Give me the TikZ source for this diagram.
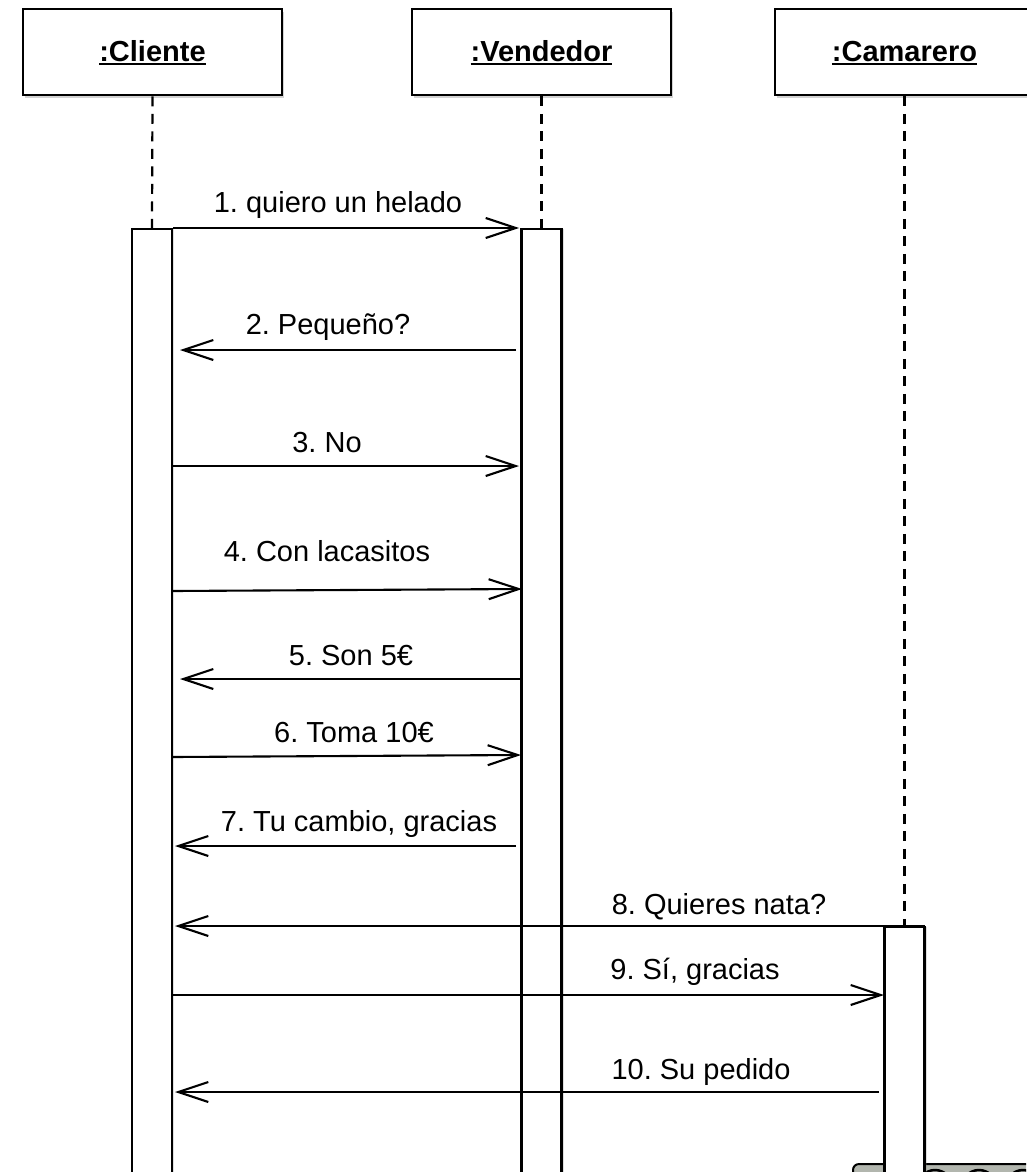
\documentclass[tikz,border=0pt]{standalone}
\usepackage{fontspec}
\setmainfont{Liberation Sans}
\usetikzlibrary{arrows.meta,shadows}
\definecolor{panelgray}{RGB}{178,182,174}
\frenchspacing
% underline placed just below the baseline
\newcommand{\objname}[1]{\setbox0\hbox{#1}\rlap{\raisebox{-3pt}{\rule{\wd0}{2pt}}}\box0}

\begin{document}
\begin{tikzpicture}[x=1pt,y=-1pt,
  objbox/.style={draw, line width=2.6pt, fill=white, minimum width=259pt,
    minimum height=86pt, inner sep=0pt, text height=24pt, text depth=4pt,
    font=\fontsize{29}{34}\selectfont\bfseries,
    drop shadow={shadow xshift=1.5pt, shadow yshift=-3pt, opacity=0.35}},
  lifeline/.style={line width=2.2pt, dash pattern=on 10pt off 7.5pt},
  actbar/.style={draw, line width=2.4pt, fill=white, minimum width=40pt,
    minimum height=944pt, inner sep=0pt, anchor=north,
    drop shadow={shadow xshift=2pt, shadow yshift=0pt, opacity=0.25}},
  msg/.style={line width=2.1pt,
    -{Straight Barb[length=30pt,width=20pt,line width=2.1pt]}},
  lbl/.style={font=\fontsize{29}{34}\selectfont, anchor=base, inner sep=0pt}]

\useasboundingbox (0,0) rectangle (1026,1172);

% control strip peeking in at the lower right corner
\begin{scope}
  \clip (0,0) rectangle (1026,1172);
  \draw[line width=2pt, fill=panelgray, rounded corners=6pt]
    (853,1164) rectangle (1070,1230);
  \foreach \cx in {935,979,1023}
    \draw[line width=2.5pt, fill=panelgray] (\cx,1187) circle (17pt);
\end{scope}

% object headers
\node[objbox] (cli) at (152.5,52) {\objname{:Cliente}};
\node[objbox] (ven) at (541.5,52) {\objname{:Vendedor}};
\node[objbox] (cam) at (904.5,52) {\objname{:Camarero}};

% activation bars
\node[actbar] (cbar) at (152,228) {};
\node[actbar] (vbar) at (541.5,228) {};
\node[actbar, minimum height=250pt] (kbar) at (904.5,926) {};

% lifelines
\draw[lifeline] (cli.south) -- (cbar.north);
\draw[lifeline] (ven.south) -- (vbar.north);
\draw[lifeline] (cam.south) -- (kbar.north);

% message end points
\coordinate (m1a) at (173,228);  \coordinate (m1b) at (519,228);
\coordinate (m2a) at (516,350);  \coordinate (m2b) at (180,350);
\coordinate (m3a) at (173,466);  \coordinate (m3b) at (519,466);
\coordinate (m4a) at (173,591);  \coordinate (m4b) at (522,589);
\coordinate (m5a) at (521,679);  \coordinate (m5b) at (180,679);
\coordinate (m6a) at (173,757);  \coordinate (m6b) at (521,755);
\coordinate (m7a) at (516,846);  \coordinate (m7b) at (175,846);
\coordinate (m8a) at (925,926);  \coordinate (m8b) at (175,926);
\coordinate (m9a) at (173,995);  \coordinate (m9b) at (884,995);
\coordinate (m10a) at (879,1092); \coordinate (m10b) at (175,1092);

% messages
\draw[msg] (m1a) -- (m1b);
\draw[msg] (m2a) -- (m2b);
\draw[msg] (m3a) -- (m3b);
\draw[msg] (m4a) -- (m4b);
\draw[msg] (m5a) -- (m5b);
\draw[msg] (m6a) -- (m6b);
\draw[msg] (m7a) -- (m7b);
\draw[msg] (m8a) -- (m8b);
\draw[msg] (m9a) -- (m9b);
\draw[msg] (m10a) -- (m10b);

% message labels
\node[lbl] (t1) at (338,212) {1. quiero un helado};
\node[lbl] (t2) at (328,334) {2. Pequeño?};
\node[lbl] (t3) at (327,452) {3. No};
\node[lbl] (t4) at (327,561) {4. Con lacasitos};
\node[lbl] (t5) at (351,665) {5. Son 5€};
\node[lbl] (t6) at (354,742) {6. Toma 10€};
\node[lbl] (t7) at (359,831) {7. Tu cambio, gracias};
\node[lbl] (t8) at (719,914) {8. Quieres nata?};
\node[lbl] (t9) at (695,979) {9. Sí, gracias};
\node[lbl] (t10) at (701,1079) {10. Su pedido};
\end{tikzpicture}
\end{document}
